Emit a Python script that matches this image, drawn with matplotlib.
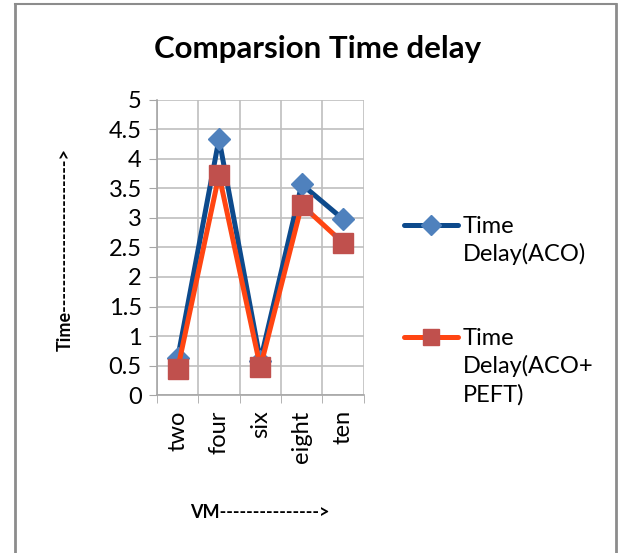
import matplotlib.pyplot as plt
from matplotlib.lines import Line2D

plt.rcParams['font.family'] = ['Lato', 'DejaVu Sans']

# data
vms = ['two', 'four', 'six', 'eight', 'ten']
delay_aco = [0.62, 4.34, 0.58, 3.57, 2.98]
delay_aco_peft = [0.44, 3.73, 0.47, 3.22, 2.58]
labels = ['Time\nDelay(ACO)', 'Time\nDelay(ACO+\nPEFT)']

aco_line, aco_mark = '#0d4a8c', '#4f81bd'
peft_line, peft_mark = '#ff4512', '#c0504d'

fig = plt.figure(figsize=(6.19, 5.53), dpi=100)
ax = fig.add_axes([0.2536, 0.2857, 0.334, 0.5335])

x = list(range(len(vms)))
ax.plot(x, delay_aco, color=aco_line, lw=3.6, marker='D', ms=11,
        mfc=aco_mark, mec=aco_mark, zorder=3)
ax.plot(x, delay_aco_peft, color=peft_line, lw=3.6, marker='s', ms=14,
        mfc=peft_mark, mec=peft_mark, zorder=4)

ax.set_xlim(-0.5, len(vms) - 0.5)
ax.set_ylim(0, 5)
ax.set_yticks([i * 0.5 for i in range(11)])
ax.set_yticklabels(['0', '0.5', '1', '1.5', '2', '2.5', '3', '3.5', '4', '4.5', '5'])
ax.set_xticks(x)
ax.set_xticklabels(vms, rotation=90)
ax.set_xticks([i - 0.5 for i in range(len(vms) + 1)], minor=True)
ax.tick_params(axis='x', which='major', length=0, labelsize=17, pad=11)
ax.tick_params(axis='x', which='minor', length=6, color='#a6a6a6')
ax.tick_params(axis='y', length=6, color='#a6a6a6', labelsize=17, pad=5)

ax.grid(True, axis='y', color='#bfbfbf', lw=1.2)
ax.grid(True, axis='x', which='minor', color='#bfbfbf', lw=1.2)
for s in ['top', 'right']:
    ax.spines[s].set_visible(False)
for s in ['left', 'bottom']:
    ax.spines[s].set_color('#a6a6a6')
    ax.spines[s].set_linewidth(1.2)
ax.set_axisbelow(True)

fig.text(0.513, 0.912, 'Comparsion Time delay', ha='center', va='center',
         fontsize=22.5, fontweight='bold')
fig.text(0.105, 0.548, 'Time----------------------->', rotation=90, ha='center',
         va='center', fontsize=13, fontweight='bold')
fig.text(0.42, 0.074, 'VM--------------->', ha='center', va='center',
         fontsize=13, fontweight='bold')

# legend drawn by hand (handle aligned with first text line, like Excel)
entries = [(0.5931, 0.6096, aco_line, aco_mark, 'D', 10),
           (0.3906, 0.4071, peft_line, peft_mark, 's', 12)]
for lab, (hy, ty, lc, mc, mk, ms) in zip(labels, entries):
    fig.add_artist(Line2D([0.6527, 0.7399], [hy, hy], color=lc, lw=3.6,
                          solid_capstyle='round'))
    fig.add_artist(Line2D([0.6963], [hy], marker=mk, ms=ms, mfc=mc, mec=mc,
                          ls='none'))
    fig.text(0.748, ty, lab, ha='left', va='top', fontsize=17,
             linespacing=1.36)

# chart border
fig.add_artist(Line2D([0.0242, 0.0242], [0, 0.992], color='#8c8c8c', lw=2))
fig.add_artist(Line2D([0.995, 0.995], [0, 0.992], color='#8c8c8c', lw=2))
fig.add_artist(Line2D([0.0242, 0.995], [0.992, 0.992], color='#8c8c8c', lw=1.5))

fig.savefig('out.png', dpi=100)
